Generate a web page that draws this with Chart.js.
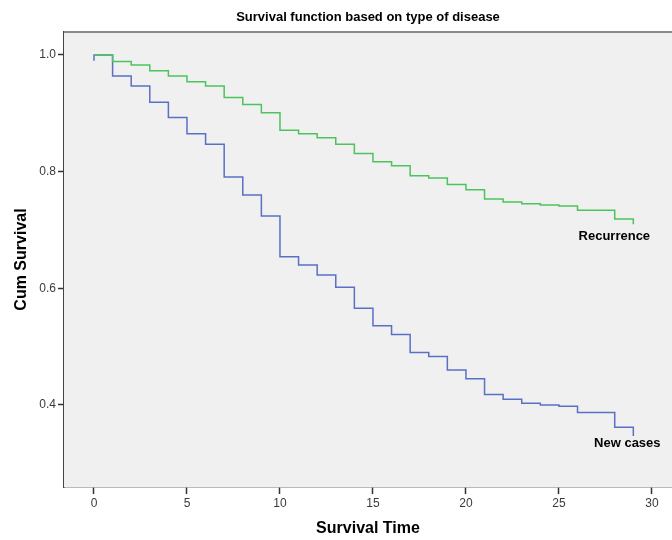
<!DOCTYPE html>
<html>
<head>
<meta charset="utf-8">
<title>Survival function based on type of disease</title>
<script src="https://cdn.jsdelivr.net/npm/chart.js"></script>
<style>
  html, body { margin: 0; padding: 0; background: #ffffff; }
  #survivalChart { display: block; }
</style>
</head>
<body>
<canvas id="survivalChart" width="672" height="540"></canvas>
<script>
  'use strict'

  // Kaplan-Meier steps
  const recurrenceTimes = [0, 1, 2, 3, 4, 5, 6, 7, 8, 9, 10, 11, 12, 13, 14, 15, 16, 17, 18, 19, 20, 21, 22, 23, 24, 25, 26, 28, 29];
  const recurrenceSurvival = [1.0, 0.989, 0.983, 0.973, 0.964, 0.954, 0.947, 0.927, 0.915, 0.901, 0.871, 0.865, 0.858, 0.847, 0.831, 0.817, 0.810, 0.793, 0.789, 0.778, 0.769, 0.753, 0.748, 0.745, 0.743, 0.741, 0.734, 0.719, 0.710];

  const newCaseTimes = [0, 0, 1, 2, 3, 4, 5, 6, 7, 8, 9, 10, 11, 12, 13, 14, 15, 16, 17, 18, 19, 20, 21, 22, 23, 24, 25, 26, 28, 29];
  const newCaseSurvival = [0.99, 1.0, 0.964, 0.947, 0.919, 0.893, 0.865, 0.847, 0.791, 0.760, 0.724, 0.654, 0.640, 0.623, 0.602, 0.566, 0.536, 0.521, 0.490, 0.483, 0.460, 0.445, 0.418, 0.410, 0.403, 0.400, 0.398, 0.387, 0.362, 0.347];

  const seriesNames = ['Recurrence', 'New cases'];
  const xTickValues = [0, 5, 10, 15, 20, 25, 30];
  const yTickValues = [0.4, 0.6, 0.8, 1.0];

  const toPoints = function (times, values) {
    return times.map(function (t, i) { return { x: t, y: values[i] }; });
  };

  // grey plot background, top border, title and end-of-line labels
  const spssLook = {
    id: 'spssLook',
    beforeDatasetsDraw: function (chart) {
      const a = chart.chartArea;
      const ctx = chart.ctx;
      ctx.save();
      ctx.fillStyle = '#f0f0f0';
      ctx.fillRect(a.left, a.top, a.right - a.left, a.bottom - a.top);
      ctx.strokeStyle = '#8a8a8a';
      ctx.lineWidth = 2;
      ctx.beginPath();
      ctx.moveTo(a.left, a.top);
      ctx.lineTo(a.right, a.top);
      ctx.stroke();
      ctx.restore();
    },
    afterDraw: function (chart, args, opts) {
      const ctx = chart.ctx;
      ctx.save();
      ctx.fillStyle = '#000000';
      ctx.textAlign = 'center';
      ctx.textBaseline = 'middle';
      ctx.font = 'bold 13px "Liberation Sans", Arial, sans-serif';
      ctx.fillText(opts.title, 368, 17);

      chart.data.datasets.forEach(function (ds, i) {
        const meta = chart.getDatasetMeta(i);
        const last = meta.data[meta.data.length - 1];
        const off = opts.labelOffsets[i];
        ctx.fillText(ds.label, last.x + off[0], last.y + off[1]);
      });
      ctx.restore();
    }
  };

  const ctx = document.getElementById('survivalChart');

  new Chart(ctx, {
    type: 'line',
    data: {
      datasets: [
        {
          label: seriesNames[0],
          data: toPoints(recurrenceTimes, recurrenceSurvival),
          borderColor: '#4cc35c',
          borderWidth: 1.5,
          pointRadius: 0,
          stepped: true,
          fill: false
        },
        {
          label: seriesNames[1],
          data: toPoints(newCaseTimes, newCaseSurvival),
          borderColor: '#5a70c6',
          borderWidth: 1.5,
          pointRadius: 0,
          stepped: true,
          fill: false
        }
      ]
    },
    options: {
      responsive: false,
      animation: false,
      layout: { padding: { top: 32, right: 0, left: 0, bottom: 0 } },
      plugins: {
        legend: { display: false },
        tooltip: { enabled: false },
        spssLook: {
          title: 'Survival function based on type of disease',
          labelOffsets: [[-19, 12], [-6, 8]]
        }
      },
      scales: {
        x: {
          type: 'linear',
          min: -1.613,
          max: 31.08,
          afterBuildTicks: function (scale) {
            scale.ticks = xTickValues.map(function (v) { return { value: v }; });
          },
          afterFit: function (scale) { scale.height = 53; },
          grid: { drawOnChartArea: false, drawTicks: true, tickLength: 7, tickColor: '#333333', tickWidth: 1.5 },
          border: { display: true, color: '#777777', width: 1.5 },
          ticks: {
            padding: 2,
            color: '#3a3a3a',
            font: { family: '"Liberation Sans", Arial, sans-serif', size: 12 },
            maxRotation: 0
          },
          title: {
            display: true,
            text: 'Survival Time',
            color: '#000000',
            padding: { top: 2, bottom: 2 },
            font: { family: '"Liberation Sans", Arial, sans-serif', size: 16, weight: 'bold' }
          }
        },
        y: {
          min: 0.2594,
          max: 1.0394,
          afterBuildTicks: function (scale) {
            scale.ticks = yTickValues.map(function (v) { return { value: v }; });
          },
          afterFit: function (scale) { scale.width = 64; },
          grid: { drawOnChartArea: false, drawTicks: true, tickLength: 6, tickColor: '#333333', tickWidth: 1.5 },
          border: { display: true, color: '#444444', width: 1.5 },
          ticks: {
            padding: 2,
            color: '#3a3a3a',
            font: { family: '"Liberation Sans", Arial, sans-serif', size: 12 },
            callback: function (v) { return Number(v).toFixed(1); }
          },
          title: {
            display: true,
            text: 'Cum Survival',
            color: '#000000',
            padding: { top: 12, bottom: 0 },
            font: { family: '"Liberation Sans", Arial, sans-serif', size: 16, weight: 'bold' }
          }
        }
      }
    },
    plugins: [spssLook]
  });
</script>
</body>
</html>
